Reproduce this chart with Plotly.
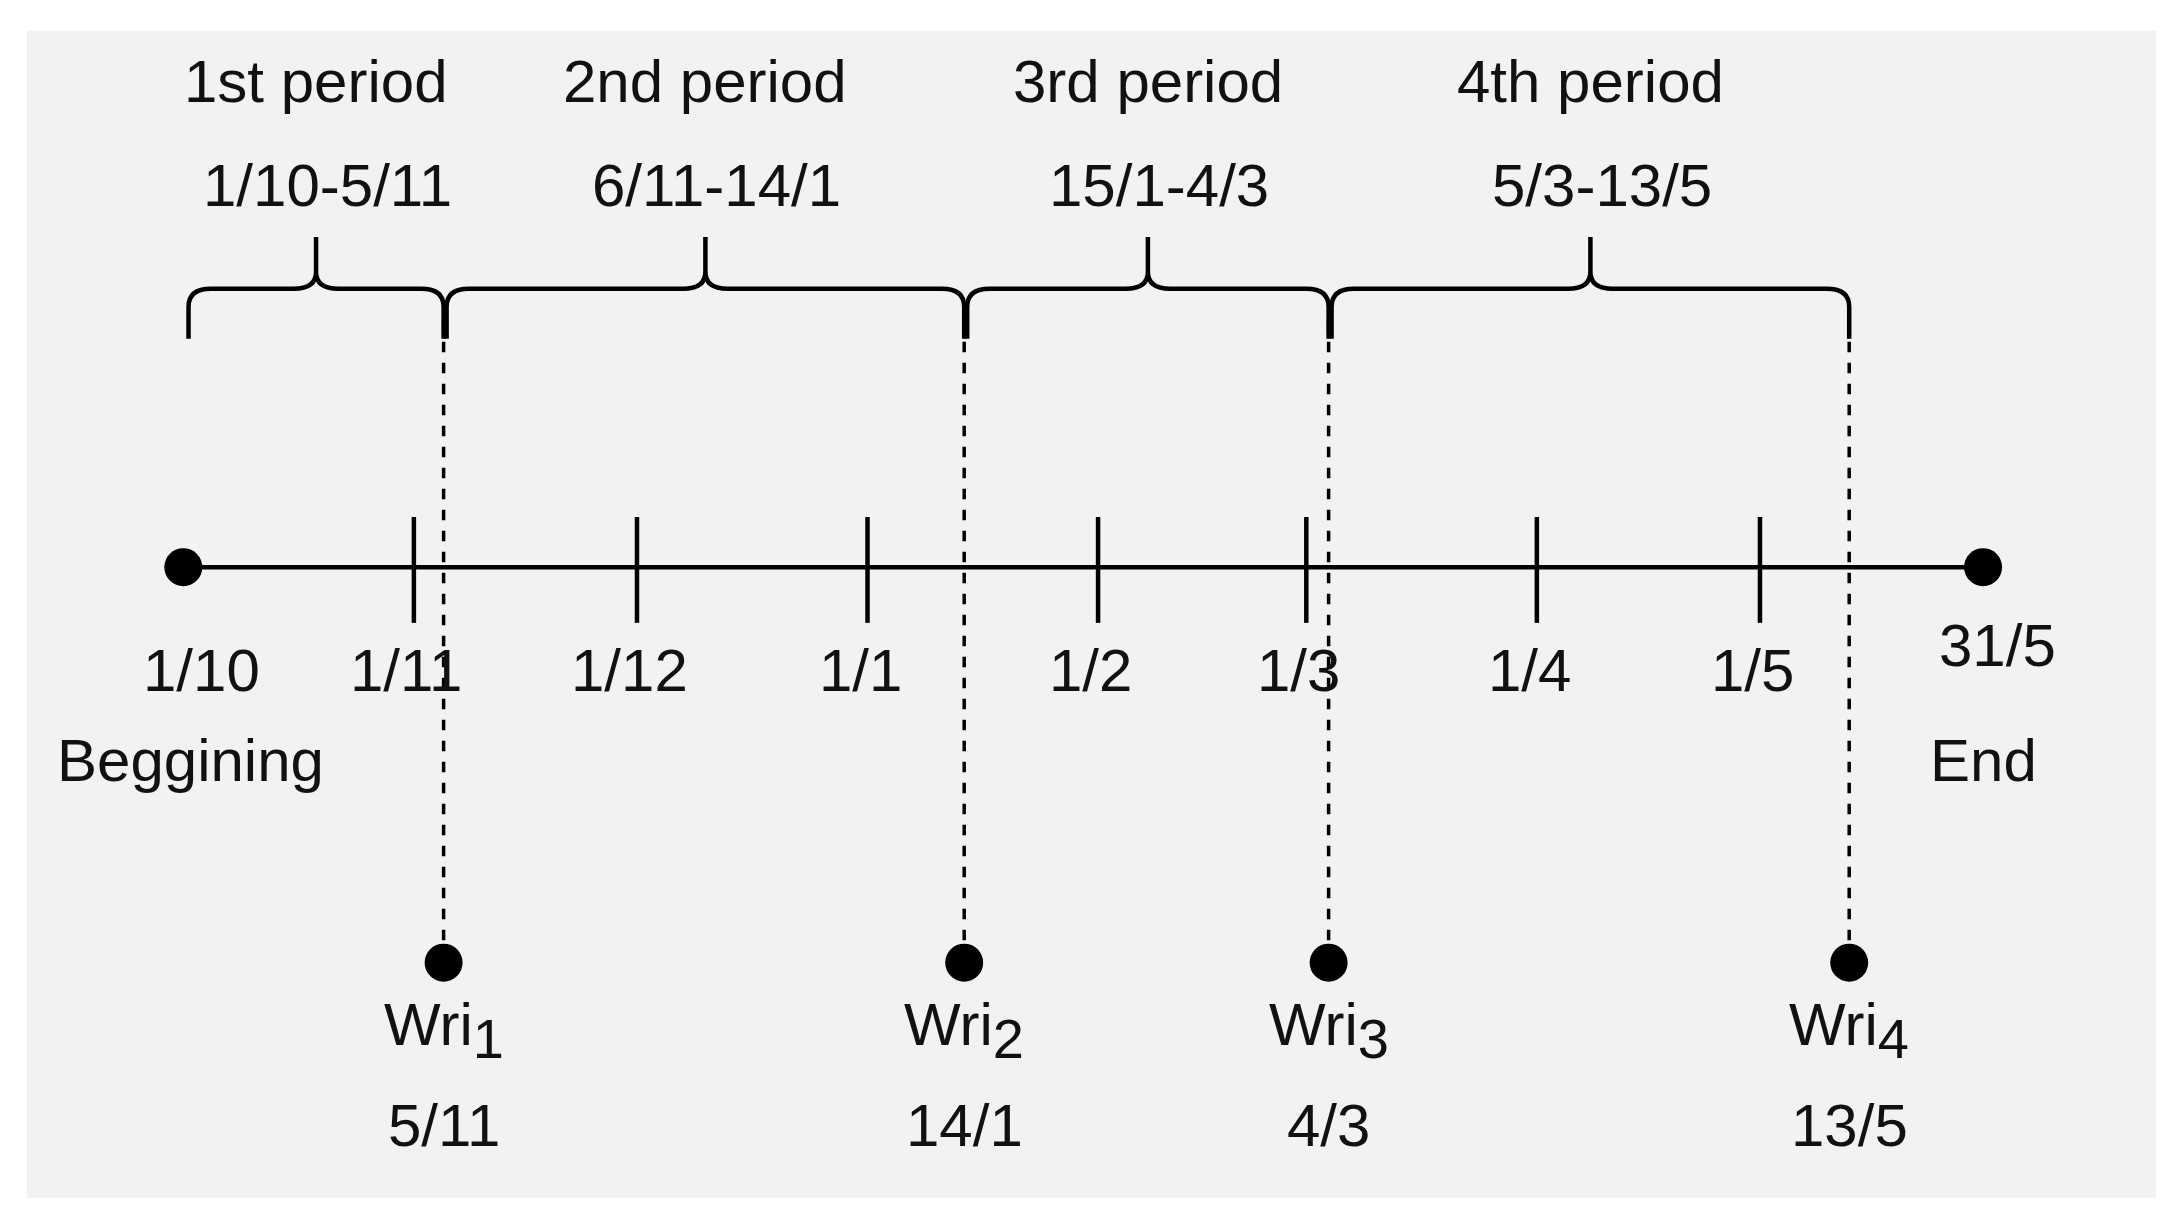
import plotly.graph_objects as go
from datetime import date

start = date(2020, 10, 1)
end = date(2021, 5, 31)
tick_dates = [date(2020, 11, 1), date(2020, 12, 1), date(2021, 1, 1), date(2021, 2, 1),
              date(2021, 3, 1), date(2021, 4, 1), date(2021, 5, 1)]
tick_labels = ["1/11", "1/12", "1/1", "1/2", "1/3", "1/4", "1/5"]
period_names = ["1st period", "2nd period", "3rd period", "4th period"]
period_ranges = ["1/10-5/11", "6/11-14/1", "15/1-4/3", "5/3-13/5"]
wri_dates = [date(2020, 11, 5), date(2021, 1, 14), date(2021, 3, 4), date(2021, 5, 13)]
wri_subs = ["1", "2", "3", "4"]
wri_labels = ["5/11", "14/1", "4/3", "13/5"]

def d(x):
    return (x - start).days

S = 1.383
FONT = dict(family="Liberation Sans, Arial", size=60, color="#111")
Y_LINE, Y_TICKLAB, Y_BEG, Y_PNAME, Y_PRANGE = 402, 476, 541, 53, 128
Y_WRI, Y_WNAME, Y_WDATE = 686, 735, 803

fig = go.Figure()
xs_end = d(end)
fig.add_trace(go.Scatter(x=[0, xs_end], y=[Y_LINE, Y_LINE], mode="lines",
                         line=dict(color="black", width=4.5), hoverinfo="skip"))
fig.add_trace(go.Scatter(x=[0, xs_end], y=[Y_LINE, Y_LINE], mode="markers",
                         marker=dict(color="black", size=38), hoverinfo="skip"))
for t in tick_dates:
    fig.add_shape(type="line", x0=d(t), x1=d(t), y0=366, y1=442,
                  line=dict(color="black", width=4.5))
for t, lab in zip(tick_dates, tick_labels):
    fig.add_annotation(x=d(t) - 1, y=Y_TICKLAB, text=lab, showarrow=False, font=FONT)
fig.add_annotation(x=2.5, y=Y_TICKLAB, text="1/10", showarrow=False, font=FONT)
fig.add_annotation(x=1, y=Y_BEG, text="Beggining", showarrow=False, font=FONT)
fig.add_annotation(x=xs_end + 2, y=458, text="31/5", showarrow=False, font=FONT)
fig.add_annotation(x=xs_end, y=Y_BEG, text="End", showarrow=False, font=FONT)

wx = [d(w) for w in wri_dates]
fig.add_trace(go.Scatter(x=wx, y=[Y_WRI] * 4, mode="markers",
                         marker=dict(color="black", size=38), hoverinfo="skip"))
for x, s, lab in zip(wx, wri_subs, wri_labels):
    fig.add_shape(type="line", x0=x, x1=x, y0=225, y1=Y_WRI,
                  line=dict(color="black", width=3.5, dash="dash"))
    fig.add_annotation(x=x, y=Y_WNAME, showarrow=False, font=FONT,
                       text=f"Wri<sub><span style='font-size:56px'>{s}</span></sub>")
    fig.add_annotation(x=x, y=Y_WDATE, text=lab, showarrow=False, font=FONT)

bounds = [0.7] + wx
for i in range(4):
    x0 = bounds[i] + (0.4 if i else 0)
    x1 = bounds[i + 1]
    xm = (x0 + x1) / 2
    r = 3.0
    path = (f"M {x0},238 L {x0},215 Q {x0},202 {x0+r},202 L {xm-r},202 "
            f"Q {xm},202 {xm},190 L {xm},165 M {xm},190 Q {xm},202 {xm+r},202 "
            f"L {x1-r},202 Q {x1},202 {x1},215 L {x1},238")
    fig.add_shape(type="path", path=path, line=dict(color="black", width=4.5))
    fig.add_annotation(x=xm, y=Y_PNAME, text=period_names[i], showarrow=False, font=FONT)
    fig.add_annotation(x=xm + 1.5, y=Y_PRANGE, text=period_ranges[i], showarrow=False, font=FONT)

px_per_day = 5.376
fig.update_xaxes(visible=False, range=[(14 - 127) / px_per_day, (1553 - 127) / px_per_day])
fig.update_yaxes(visible=False, range=[855, 17])
fig.update_layout(width=2168, height=1210, showlegend=False,
                  paper_bgcolor="white", plot_bgcolor="#f2f2f2",
                  margin=dict(l=int(14 * S), r=int(15 * S), t=int(17 * S), b=int(15 * S)))
fig.write_html("out.html")
